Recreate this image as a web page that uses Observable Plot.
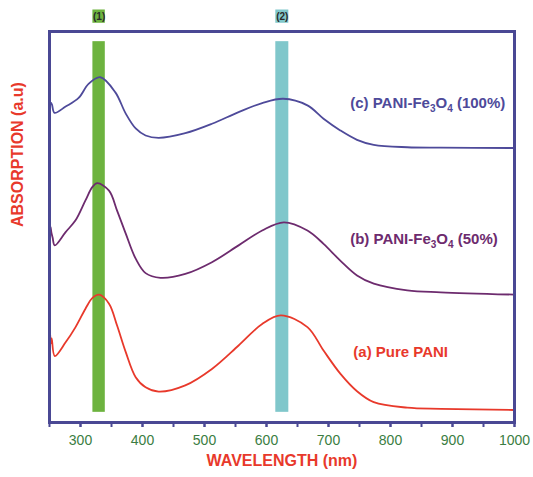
<!DOCTYPE html>
<html>
<head>
<meta charset="utf-8">
<script src="https://cdn.jsdelivr.net/npm/d3@7"></script>
<script src="https://cdn.jsdelivr.net/npm/@observablehq/plot@0.6"></script>
<style>
  html, body { margin: 0; padding: 0; background: #fff; }
  #chart { width: 533px; height: 477px; }
</style>
</head>
<body>
<div id="chart"></div>
<script>
// Wavelength (nm) and absorption (a.u., 0-100 arbitrary)
const wlA = [250, 251, 252, 253.5, 258.5, 276, 292, 308, 319, 330, 346, 359, 373, 389, 405, 426, 469, 512, 555, 593, 623, 666, 692, 719, 746, 773, 827, 881, 1000];
const absA = [19.7, 22.8, 20.2, 21.5, 17.0, 20.5, 24.4, 29.1, 31.8, 32.7, 30.4, 24.8, 18.0, 11.6, 9.0, 7.9, 9.5, 13.7, 19.7, 25.2, 27.4, 24.4, 18.4, 12.5, 8.0, 5.2, 3.8, 3.5, 3.2];

const wlB = [250, 251.5, 253, 255, 258.5, 276, 292, 308, 319, 327, 346, 359, 373, 389, 405, 429, 469, 512, 555, 593, 628, 666, 692, 719, 746, 773, 827, 881, 1000];
const absB = [48.6, 50.1, 48.6, 47.3, 45.3, 48.7, 51.7, 56.8, 60.2, 61.2, 59.3, 54.2, 48.3, 41.9, 38.2, 37.0, 38.0, 41.0, 45.3, 49.1, 51.2, 49.1, 45.7, 41.4, 37.6, 35.5, 33.8, 33.3, 32.7];

const wlC = [250, 252, 254, 258, 276, 297, 313, 332, 356, 373, 389, 405, 426, 469, 512, 555, 593, 627, 666, 692, 719, 746, 773, 827, 881, 1000];
const absC = [80.3, 81.8, 81.3, 79.2, 80.8, 83.0, 86.6, 88.3, 84.5, 79.0, 75.2, 73.4, 72.8, 74.0, 76.4, 79.4, 81.7, 82.8, 81.1, 77.7, 74.7, 72.3, 71.0, 70.4, 70.3, 70.2];

const seriesNames = ["(a) Pure PANI", "(b) PANI-Fe3O4 (50%)", "(c) PANI-Fe3O4 (100%)"];
const seriesColors = ["#e8392b", "#6d2b6e", "#4e4a9a"];
const labelX = [740, 735, 735];
const labelY = [18.0, 47.0, 81.6];

const bandNames = ["(1)", "(2)"];
const bandStart = [320, 615];
const bandEnd = [340, 636];
const bandColors = ["#6db33f", "#80c7cb"];

const xTicksMajor = [300, 400, 500, 600, 700, 800, 900, 1000];
const xTicksMinor = [250, 300, 350, 400, 450, 500, 550, 600, 650, 700, 750, 800, 850, 900, 950, 1000];

const navy = "#4a4894";
const red = "#e8392b";
const font = "'Liberation Sans', Arial, Helvetica, sans-serif";

const rows = [];
[[wlA, absA], [wlB, absB], [wlC, absC]].forEach(([w, a], i) => {
  w.forEach((x, j) => rows.push({series: seriesNames[i], wl: x, abs: a[j]}));
});
const bands = bandNames.map((n, i) => ({name: n, x1: bandStart[i], x2: bandEnd[i], color: bandColors[i]}));
const labels = seriesNames.map((n, i) => ({name: n, x: labelX[i], y: labelY[i], color: seriesColors[i]}));

const plot = Plot.plot({
  width: 533,
  height: 477,
  marginLeft: 49,
  marginRight: 19,
  marginTop: 31,
  marginBottom: 55,
  style: {fontFamily: font, background: "#fff"},
  x: {domain: [250, 1000]},
  y: {domain: [0, 100], axis: null},
  color: {domain: seriesNames, range: seriesColors},
  marks: [
    Plot.rect(bands, {x1: "x1", x2: "x2", y1: 2.6, y2: 97.4, fill: "color"}),
    Plot.rect(bands, {x1: "x1", x2: "x2", y1: 102.1, y2: 105.5, fill: "color"}),
    Plot.text(bands, {x: d => (d.x1 + d.x2) / 2, y: 103.8, text: "name", fontSize: 10, fontWeight: "bold", fill: "#2a2a2a"}),
    Plot.line(rows, {x: "wl", y: "abs", z: "series", stroke: "series", strokeWidth: 1.8, curve: "catmull-rom"}),
    Plot.text(labels, {x: "x", y: "y", text: "name", fill: "color", textAnchor: "start", fontSize: 15, fontWeight: "bold"}),
    Plot.axisX({ticks: xTicksMinor, tickFormat: () => "", tickSize: 5, stroke: navy, strokeWidth: 2, label: null}),
    Plot.axisX({ticks: xTicksMajor, tickFormat: d => String(d), tickSize: 5, tickPadding: 8, stroke: navy, strokeWidth: 2, fill: "#3b7d43", fontSize: 14, label: null}),
    Plot.frame({stroke: navy, strokeWidth: 3}),
    Plot.text(["ABSORPTION (a.u)"], {frameAnchor: "left", dx: -32, rotate: -90, text: d => d, fill: red, fontSize: 16, fontWeight: "bold"}),
    Plot.text(["WAVELENGTH (nm)"], {frameAnchor: "bottom", dy: 43, text: d => d, fill: red, fontSize: 16, fontWeight: "bold"})
  ]
});

// render chemical subscripts (Fe3O4) as real subscripts
plot.querySelectorAll("text").forEach(t => {
  const s = t.textContent;
  if (s.includes("Fe3O4")) {
    const [pre, post] = s.split("Fe3O4");
    t.textContent = "";
    const ns = "http://www.w3.org/2000/svg";
    const add = (txt, dy, size) => {
      const ts = document.createElementNS(ns, "tspan");
      ts.textContent = txt;
      if (dy) ts.setAttribute("dy", dy);
      if (size) ts.setAttribute("font-size", size);
      t.appendChild(ts);
    };
    add(pre + "Fe");
    add("3", "4", "10");
    add("O", "-4");
    add("4", "4", "10");
    add(post, "-4");
  }
});

document.getElementById("chart").appendChild(plot);
</script>
</body>
</html>
